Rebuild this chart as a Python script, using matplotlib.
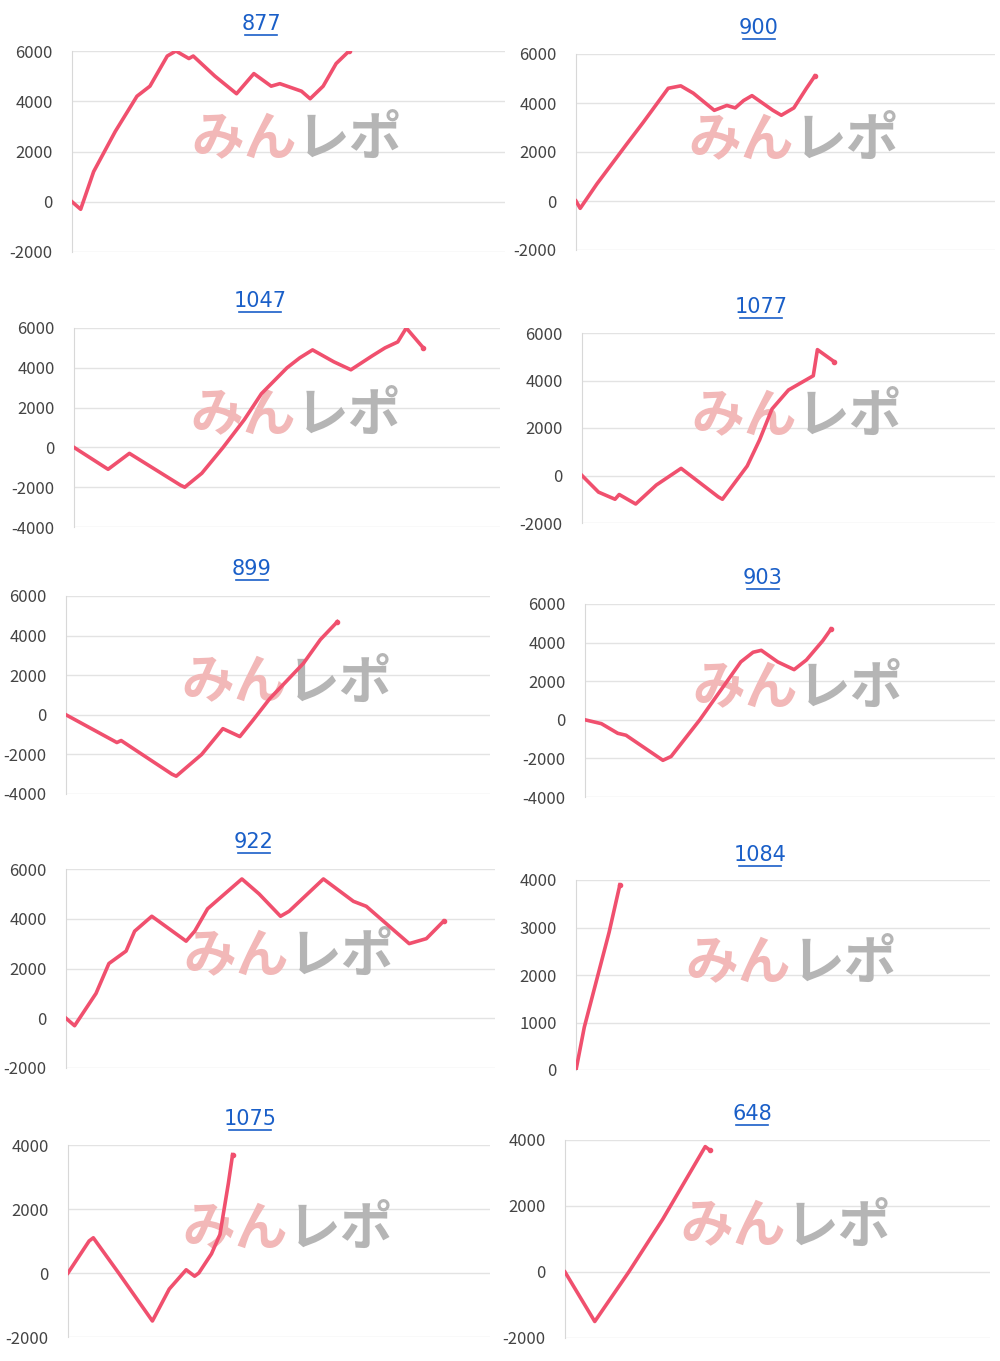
import matplotlib.pyplot as plt

plt.rcParams['font.family'] = ['Noto Sans CJK JP', 'DejaVu Sans']
plt.rcParams['axes.unicode_minus'] = False

W, H = 1000, 1361

titles = ["877", "900", "1047", "1077", "899", "903", "922", "1084", "1075", "648"]

# waypoints: x = share of axis width (%), y = value
x877 = [0, 2, 5, 10, 15, 18, 22, 24, 27, 28, 33, 38, 42, 46, 48, 53, 55, 58, 61, 64]
y877 = [0, -300, 1200, 2800, 4200, 4600, 5800, 6000, 5700, 5800, 5000, 4300, 5100, 4600, 4700, 4400, 4100, 4600, 5500, 6000]
x900 = [0, 1, 5, 12, 16, 22, 25, 28, 33, 36, 38, 40, 42, 47, 49, 52, 55, 57]
y900 = [0, -300, 700, 2300, 3200, 4600, 4700, 4400, 3700, 3900, 3800, 4100, 4300, 3700, 3500, 3800, 4600, 5100]
x1047 = [0, 8, 13, 25, 26, 30, 35, 40, 44, 50, 53, 56, 61, 65, 70, 73, 76, 78, 82]
y1047 = [0, -1100, -300, -1900, -2000, -1300, 0, 1400, 2700, 4000, 4500, 4900, 4300, 3900, 4600, 5000, 5300, 6000, 5000]
x1077 = [0, 4, 8, 9, 13, 18, 24, 33, 34, 37, 40, 43, 46, 50, 56, 57, 61]
y1077 = [0, -700, -1000, -800, -1200, -400, 300, -900, -1000, -300, 400, 1500, 2800, 3600, 4200, 5300, 4800]
x899 = [0, 12, 13, 25, 26, 32, 37, 39, 41, 44, 48, 52, 56, 60, 64]
y899 = [0, -1400, -1300, -3000, -3100, -2000, -700, -900, -1100, -300, 800, 1700, 2600, 3800, 4700]
x903 = [0, 4, 8, 10, 19, 21, 28, 32, 38, 41, 43, 47, 51, 54, 58, 60]
y903 = [0, -200, -700, -800, -2100, -1900, 0, 1200, 3000, 3500, 3600, 3000, 2600, 3100, 4100, 4700]
x922 = [0, 2, 7, 10, 14, 16, 20, 24, 28, 30, 33, 37, 41, 45, 50, 52, 60, 67, 70, 80, 84, 88]
y922 = [0, -300, 1000, 2200, 2700, 3500, 4100, 3600, 3100, 3500, 4400, 5000, 5600, 5000, 4100, 4300, 5600, 4700, 4500, 3000, 3200, 3900]
x1084 = [0, 2, 5, 8, 10.6]
y1084 = [0, 900, 1900, 2900, 3900]
x1075 = [0, 5, 6, 12, 20, 24, 26, 28, 29, 30, 31, 34, 36, 38, 39]
y1075 = [0, 1000, 1100, 0, -1500, -500, -200, 100, 0, -100, 0, 600, 1200, 2800, 3700]
x648 = [0, 7, 15, 23, 33, 34]
y648 = [0, -1500, 0, 1600, 3800, 3700]

xs = [x877, x900, x1047, x1077, x899, x903, x922, x1084, x1075, x648]
ys = [y877, y900, y1047, y1077, y899, y903, y922, y1084, y1075, y648]

# axes box in pixels: left, right, top(y of ymax), bottom(y of ymin), ymin, ymax, step
boxes = [
    (72, 505, 51, 252, -2000, 6000, 2000),
    (576, 995, 54, 250, -2000, 6000, 2000),
    (74, 500, 328, 527, -4000, 6000, 2000),
    (582, 995, 333, 523, -2000, 6000, 2000),
    (66, 490, 596, 794, -4000, 6000, 2000),
    (585, 995, 604, 797, -4000, 6000, 2000),
    (66, 495, 869, 1068, -2000, 6000, 2000),
    (576, 990, 880, 1070, 0, 4000, 1000),
    (68, 490, 1145, 1337, -2000, 4000, 2000),
    (565, 990, 1140, 1338, -2000, 4000, 2000),
]
# title centre in pixels
title_pos = [(261, 24), (759, 28), (260, 301), (761, 307), (252, 569),
             (763, 578), (254, 842), (760, 855), (250, 1119), (752, 1114)]

fig = plt.figure(figsize=(W / 100, H / 100), dpi=100)
for t, x, y, (l, r, top, bot, lo, hi, st), (tx, ty) in zip(titles, xs, ys, boxes, title_pos):
    ax = fig.add_axes([l / W, 1 - bot / H, (r - l) / W, (bot - top) / H])
    ax.set_xlim(0, 100)
    ax.set_ylim(lo, hi)
    ax.set_yticks(range(lo, hi + 1, st))
    ax.grid(axis='y', color='#e3e3e3', lw=1)
    ax.set_xticks([])
    for s in ['top', 'right', 'bottom']:
        ax.spines[s].set_visible(False)
    ax.spines['left'].set_color('#d8d8d8')
    ax.tick_params(axis='y', length=0, labelsize=12, labelcolor='#444444', pad=14)
    ax.set_axisbelow(True)
    ax.text(0.52, 0.56, 'みん', transform=ax.transAxes, ha='right', va='center',
            fontsize=38, fontweight='bold', color='#f2b8b8', zorder=1)
    ax.text(0.52, 0.56, 'レポ', transform=ax.transAxes, ha='left', va='center',
            fontsize=38, fontweight='bold', color='#b5b5b5', zorder=1)
    ax.plot(x, y, color='#f0506e', lw=2.6, zorder=3)
    ax.plot(x[-1], y[-1], 'o', color='#f0506e', ms=3, zorder=3)
    fig.text(tx / W, 1 - ty / H, t, ha='center', va='center', color='#1a5fc8',
             fontsize=15, family='DejaVu Sans')
    half = 5.3 * len(t)
    fig.add_artist(plt.Line2D([(tx - half) / W, (tx + half) / W],
                              [1 - (ty + 11) / H, 1 - (ty + 11) / H],
                              color='#1a5fc8', lw=1.2))

fig.savefig('out.png', dpi=100, facecolor='white')
